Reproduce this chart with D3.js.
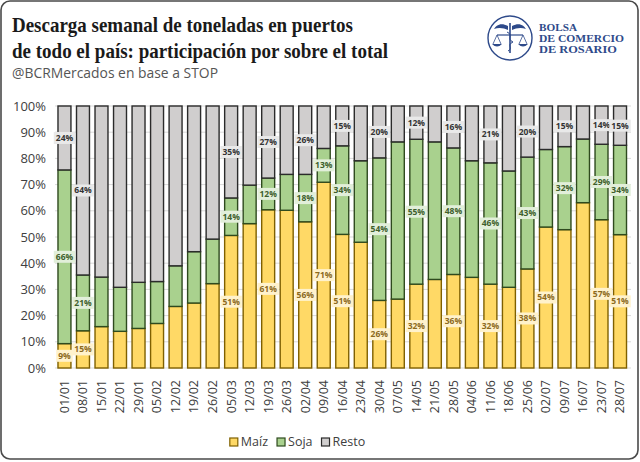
<!DOCTYPE html>
<html>
<head>
<meta charset="utf-8">
<script src="https://cdn.jsdelivr.net/npm/d3@7/dist/d3.min.js"></script>
<style>
  html, body { margin: 0; padding: 0; background: #ffffff; }
  svg { display: block; }
</style>
</head>
<body>
<svg id="chart" width="640" height="462"></svg>
<script>
// ---------------- DATA ----------------
const categories = ["01/01","08/01","15/01","22/01","29/01","05/02","12/02","19/02","26/02",
  "05/03","12/03","19/03","26/03","02/04","09/04","16/04","23/04","30/04","07/05","14/05",
  "21/05","28/05","04/06","11/06","18/06","25/06","02/07","09/07","16/07","23/07","28/07"];

const maiz  = [9.3,14.2,15.8,14.0,15.1,17.0,23.5,24.8,32.2,50.6,55.1,60.4,60.2,55.8,70.9,
  51.0,48.0,25.8,26.3,32.0,33.8,35.7,34.6,32.0,30.8,37.8,53.8,52.8,63.1,56.6,50.9];
const soja  = [66.3,21.3,18.9,16.8,17.6,16.0,15.5,19.6,17.0,14.3,14.7,12.1,13.7,18.1,12.9,
  33.8,31.1,54.4,60.0,55.3,52.5,48.3,44.5,46.3,44.4,42.7,29.6,31.7,24.3,28.8,34.1];
const resto = [24.4,64.5,65.3,69.2,67.3,67.0,61.0,55.6,50.8,35.1,30.2,27.5,26.1,26.1,16.2,
  15.2,20.9,19.8,13.7,12.7,13.7,16.0,20.9,21.7,24.8,19.5,16.6,15.5,12.6,14.6,15.0];

// data labels as printed in the picture (null = not shown)
const maizLabels  = [9,15,null,null,null,null,null,null,null,51,null,61,null,56,71,
  51,null,26,null,32,null,36,null,32,null,38,54,null,null,57,51];
const sojaLabels  = [66,21,null,null,null,null,null,null,null,14,null,12,null,18,13,
  34,null,54,null,55,null,48,null,46,null,43,null,32,null,29,34];
const restoLabels = [24,64,null,null,null,null,null,null,null,35,null,27,null,26,null,
  15,null,20,null,12,null,16,null,21,null,20,null,15,null,14,15];

const seriesNames = ["Maíz","Soja","Resto"];
const yTicks = [0,10,20,30,40,50,60,70,80,90,100];

const titleLines = ["Descarga semanal de toneladas en puertos",
                    "de todo el país: participación por sobre el total"];
const subtitle = "@BCRMercados en base a STOP";
const logoLines = ["BOLSA","DE COMERCIO","DE ROSARIO"];

// ---------------- STYLE ----------------
const fills   = {"Maíz":"#FFD966","Soja":"#A9D18E","Resto":"#D0CECE"};
const strokes = {"Maíz":"#7F6000","Soja":"#2E4A1E","Resto":"#2B2B2B"};
const lblBg   = {"Maíz":"#FFF2CC","Soja":"#E2EFDA","Resto":"#E9E9E9"};
const lblFg   = {"Maíz":"#8C6A1C","Soja":"#3E5F2C","Resto":"#333333"};

const svg = d3.select("#chart");

// frame
svg.append("rect").attr("x",1).attr("y",1).attr("width",637).attr("height",458)
  .attr("rx",9).attr("fill","#ffffff").attr("stroke","#4a4a4a").attr("stroke-width",1.6);

// title
const titleWidths = [341, 376];
titleLines.forEach((t,i)=>{
  svg.append("text").attr("x",12).attr("y",32 + i*25.5)
    .attr("font-family","'Liberation Serif','DejaVu Serif',serif")
    .attr("font-weight","bold").attr("font-size",21.5).attr("fill","#1a1a1a")
    .attr("textLength",titleWidths[i]).attr("lengthAdjust","spacingAndGlyphs")
    .text(t);
});
svg.append("text").attr("x",12).attr("y",78)
  .attr("font-family","'Open Sans',sans-serif").attr("font-size",14).attr("fill","#555555")
  .attr("textLength",206).attr("lengthAdjust","spacingAndGlyphs")
  .text(subtitle);

// logo
const logo = svg.append("g").attr("transform","translate(510,38)");
const navy = "#2E4A8A";
logo.append("circle").attr("r",22).attr("fill","none").attr("stroke",navy).attr("stroke-width",1.4);
logo.append("line").attr("x1",0).attr("y1",-15).attr("x2",0).attr("y2",15).attr("stroke",navy).attr("stroke-width",1.6);
logo.append("path").attr("d","M-2,-12 C-10,-16 -14,-12 -16,-9 C-11,-11 -6,-10 -2,-8 Z").attr("fill",navy);
logo.append("path").attr("d","M2,-12 C10,-16 14,-12 16,-9 C11,-11 6,-10 2,-8 Z").attr("fill",navy);
logo.append("line").attr("x1",-13).attr("y1",-3).attr("x2",13).attr("y2",-3).attr("stroke",navy).attr("stroke-width",1.2);
logo.append("path").attr("d","M-13,-3 L-17,6 M-13,-3 L-9,6 M13,-3 L9,6 M13,-3 L17,6").attr("stroke",navy).attr("stroke-width",0.8).attr("fill","none");
logo.append("path").attr("d","M-18,6 Q-13,11 -8,6 Z M8,6 Q13,11 18,6 Z").attr("fill",navy);
logo.append("path").attr("d","M-3,-6 C4,-3 -4,1 3,4 C-4,7 4,10 -2,13").attr("stroke",navy).attr("stroke-width",1).attr("fill","none");
const logoW = [38, 85, 78];
logoLines.forEach((t,i)=>{
  svg.append("text").attr("x",539).attr("y",31 + i*11)
    .attr("font-family","'Liberation Serif',serif").attr("font-size",10.5)
    .attr("fill",navy).attr("font-weight","bold")
    .attr("textLength",logoW[i]).attr("lengthAdjust","spacingAndGlyphs")
    .text(t);
});

// ---------------- SCALES ----------------
const plotLeft = 55, plotRight = 631, plotTop = 106, plotBottom = 368;
const x = d3.scaleBand().domain(categories).range([51.5, 633]).paddingInner(0.3).paddingOuter(0.35);
const y = d3.scaleLinear().domain([0,100]).range([plotBottom, plotTop]);

// gridlines
svg.append("g").selectAll("line").data(yTicks).join("line")
  .attr("x1",plotLeft).attr("x2",plotRight)
  .attr("y1",d=>y(d)).attr("y2",d=>y(d))
  .attr("stroke","#D9D9D9").attr("stroke-width",1);

// y axis
const yAxis = svg.append("g").attr("transform",`translate(46,0)`)
  .call(d3.axisLeft(y).tickValues(yTicks).tickSize(0).tickFormat(d=>d+"%"));
yAxis.select(".domain").remove();
yAxis.selectAll("text").attr("font-family","'Open Sans',sans-serif").attr("font-size",13)
  .attr("fill","#404040").attr("x",0);

// x axis
const xAxis = svg.append("g").attr("transform",`translate(0,${plotBottom})`)
  .call(d3.axisBottom(x).tickSize(0));
xAxis.select(".domain").remove();
xAxis.selectAll("text")
  .attr("font-family","'Open Sans',sans-serif").attr("font-size",12.5).attr("fill","#404040")
  .attr("transform","rotate(-90)").attr("text-anchor","end")
  .attr("x",-12).attr("y",0).attr("dy","0.35em");

// stacked data
const rows = categories.map((c,i)=>({cat:c,"Maíz":maiz[i],"Soja":soja[i],"Resto":resto[i]}));
const stack = d3.stack().keys(seriesNames)(rows);
const labelArrays = {"Maíz":maizLabels,"Soja":sojaLabels,"Resto":restoLabels};

const gBars = svg.append("g");
stack.forEach(layer=>{
  const key = layer.key;
  gBars.append("g").selectAll("rect").data(layer).join("rect")
    .attr("x",d=>x(d.data.cat))
    .attr("width",x.bandwidth())
    .attr("y",d=>y(d[1]))
    .attr("height",d=>y(d[0])-y(d[1]))
    .attr("fill",fills[key]).attr("stroke",strokes[key]).attr("stroke-width",1.4);
});

// labels
const gLbl = svg.append("g");
stack.forEach(layer=>{
  const key = layer.key;
  layer.forEach((d,i)=>{
    const v = labelArrays[key][i];
    if (v === null) return;
    const cx = x(d.data.cat) + x.bandwidth()/2;
    const cy = y((d[0]+d[1])/2);
    const g = gLbl.append("g");
    const t = g.append("text").attr("x",cx).attr("y",cy).attr("dy","0.35em")
      .attr("text-anchor","middle").attr("font-family","'Open Sans',sans-serif")
      .attr("font-weight","bold").attr("font-size",8.5).attr("fill",lblFg[key])
      .text(v+"%");
    const w = t.node().getComputedTextLength() + 4;
    g.insert("rect","text").attr("x",cx-w/2).attr("y",cy-6).attr("width",w).attr("height",12)
      .attr("fill",lblBg[key]);
  });
});

// legend
const legend = svg.append("g");
const items = [];
seriesNames.forEach(name=>{
  const g = legend.append("g");
  g.append("rect").attr("x",0).attr("y",-4).attr("width",8).attr("height",8)
    .attr("fill",fills[name]).attr("stroke",strokes[name]).attr("stroke-width",1.2);
  const t = g.append("text").attr("x",11).attr("y",0).attr("dy","0.35em")
    .attr("font-family","'Open Sans',sans-serif").attr("font-size",12.5).attr("fill","#404040")
    .text(name);
  const w = 11 + t.node().getComputedTextLength();
  items.push({g,w});
});
const gap = 9;
const total = d3.sum(items,d=>d.w) + gap*(items.length-1);
let cur = 297.5 - total/2;
items.forEach(it=>{ it.g.attr("transform",`translate(${cur},442)`); cur += it.w + gap; });
</script>
</body>
</html>
